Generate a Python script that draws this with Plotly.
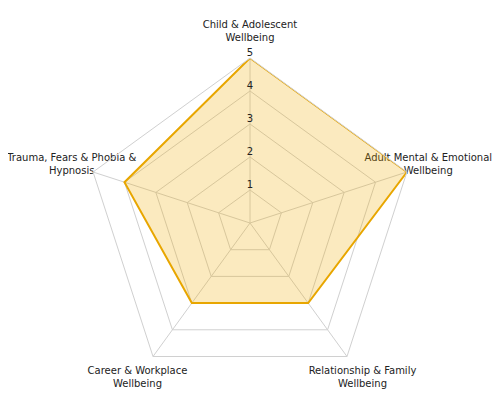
import math
import plotly.graph_objects as go

categories = [
    "Child & Adolescent<br>Wellbeing",
    "Adult Mental & Emotional<br>Wellbeing",
    "Relationship & Family<br>Wellbeing",
    "Career & Workplace<br>Wellbeing",
    "Trauma, Fears & Phobia &<br>Hypnosis",
]
scores = [5, 5, 3, 3, 4]
tick_values = [1, 2, 3, 4, 5]
tick_labels = ["1", "2", "3", "4", "5"]

# ---- geometry / style ----
W, H = 484, 394            # figure size (page adds 8px body margin)
CX, CY = 242, 215          # polar centre in figure pixels
R_PX = 165                 # pixel radius of the outer ring
R_MAX = 5                  # outer ring value
PPU = R_PX / R_MAX         # pixels per radial unit
LABEL_RADII = [5.8, 5.68, 5.8, 5.8, 5.68]
FONT = "DejaVu Sans"
GRID = "#d0d0d0"
TEXT = "#222"

fig = go.Figure()
fig.add_trace(go.Scatterpolar(
    r=scores + [scores[0]],
    theta=categories + [categories[0]],
    mode="lines",
    fill="toself",
    fillcolor="rgba(238,170,0,0.25)",
    line=dict(color="#E8A600", width=2),
    hoverinfo="skip",
    showlegend=False,
))
# radial tick labels, on the first spoke
fig.add_trace(go.Scatterpolar(
    r=tick_values,
    theta=[categories[0]] * len(tick_values),
    mode="text",
    text=tick_labels,
    textposition="top center",
    textfont=dict(family=FONT, size=10, color=TEXT),
    cliponaxis=False,
    hoverinfo="skip",
    showlegend=False,
))

# category labels on an overlay cartesian frame that shares the polar scale
n = len(categories)
lab_x, lab_y = [], []
for i, rr in enumerate(LABEL_RADII):
    ang = math.radians(90 - 360 * i / n)
    lab_x.append(rr * math.cos(ang))
    lab_y.append(rr * math.sin(ang))
fig.add_trace(go.Scatter(
    x=lab_x, y=lab_y, mode="text", text=categories,
    textposition="middle center",
    textfont=dict(family=FONT, size=10, color=TEXT),
    cliponaxis=False, hoverinfo="skip", showlegend=False,
))

fig.update_layout(
    width=W, height=H,
    margin=dict(l=0, r=0, t=0, b=0, pad=0),
    paper_bgcolor="white",
    plot_bgcolor="rgba(0,0,0,0)",
    font=dict(family=FONT, size=10, color=TEXT),
    xaxis=dict(domain=[0, 1], range=[-CX / PPU, (W - CX) / PPU],
               visible=False, fixedrange=True),
    yaxis=dict(domain=[0, 1], range=[-(H - CY) / PPU, CY / PPU],
               visible=False, fixedrange=True),
    polar=dict(
        domain=dict(x=[(CX - R_PX) / W, (CX + R_PX) / W],
                    y=[(H - CY - R_PX) / H, (H - CY + R_PX) / H]),
        bgcolor="rgba(0,0,0,0)",
        gridshape="linear",
        radialaxis=dict(
            range=[0, R_MAX],
            tickvals=tick_values,
            showticklabels=False,
            ticks="",
            showline=False,
            gridcolor=GRID,
            gridwidth=1,
            angle=90,
        ),
        angularaxis=dict(
            rotation=90,
            direction="clockwise",
            showticklabels=False,
            ticks="",
            showline=True,
            linecolor=GRID,
            linewidth=1,
            gridcolor=GRID,
            gridwidth=1,
        ),
    ),
)

fig.write_html("out.html")
